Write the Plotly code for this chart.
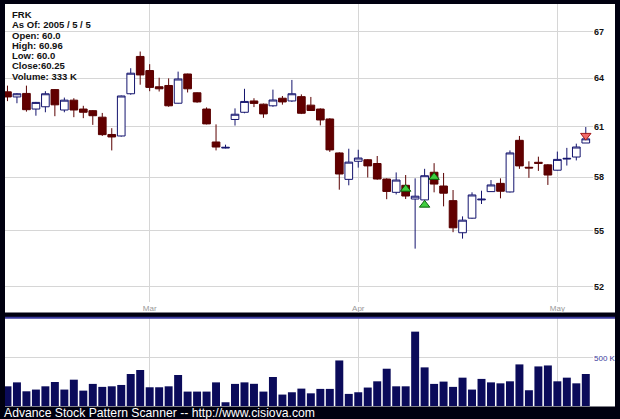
import plotly.graph_objects as go

# ---------------- data ----------------
dates = [
    "2005-02-07", "2005-02-08", "2005-02-09", "2005-02-10", "2005-02-11", "2005-02-14", "2005-02-15",
    "2005-02-16", "2005-02-17", "2005-02-18", "2005-02-22", "2005-02-23", "2005-02-24", "2005-02-25",
    "2005-02-28",
    "2005-03-01", "2005-03-02", "2005-03-03", "2005-03-04", "2005-03-07", "2005-03-08", "2005-03-09",
    "2005-03-10", "2005-03-11", "2005-03-14", "2005-03-15", "2005-03-16", "2005-03-17", "2005-03-18",
    "2005-03-21", "2005-03-22", "2005-03-23", "2005-03-24", "2005-03-28", "2005-03-29", "2005-03-30",
    "2005-03-31",
    "2005-04-01", "2005-04-04", "2005-04-05", "2005-04-06", "2005-04-07", "2005-04-08", "2005-04-11",
    "2005-04-12", "2005-04-13", "2005-04-14", "2005-04-15", "2005-04-18", "2005-04-19", "2005-04-20",
    "2005-04-21", "2005-04-22", "2005-04-25", "2005-04-26", "2005-04-27", "2005-04-28", "2005-04-29",
    "2005-05-02", "2005-05-03", "2005-05-04", "2005-05-05",
]

opens = [
    63.13, 62.81, 63.03, 62.06, 62.20, 63.27, 62.00, 62.61, 62.06, 61.96, 61.56, 60.51, 60.42, 63.01, 65.39,
    64.48, 63.45, 63.53, 62.42, 64.26, 63.07, 62.06, 60.06, 59.70, 61.42, 61.86, 62.56, 62.36, 62.26, 62.73,
    62.56, 62.83, 62.30, 62.06, 61.45, 59.41, 57.87,
    58.92, 59.01, 58.79, 57.89, 57.13, 57.53, 56.75, 56.70, 58.28, 57.49, 56.66, 54.88, 55.68, 56.70, 57.17,
    57.64, 57.15, 60.16, 58.57, 58.86, 58.71,
    58.40, 59.05, 59.17, 60.00,
]
highs = [
    63.52, 63.05, 63.52, 62.50, 63.17, 63.30, 62.77, 62.73, 62.26, 62.00, 61.82, 60.89, 62.90, 64.63, 65.71,
    64.89, 64.02, 63.98, 64.41, 64.28, 63.10, 62.16, 61.12, 59.90, 62.10, 63.32, 62.73, 62.40, 63.27, 62.87,
    63.88, 62.97, 62.81, 62.10, 61.50, 59.45, 59.66,
    59.60, 59.05, 59.23, 57.93, 58.27, 58.12, 57.93, 58.48, 58.81, 58.24, 57.26, 55.78, 57.13, 57.22, 57.83,
    57.93, 59.56, 60.42, 58.92, 59.19, 58.75,
    59.49, 59.71, 59.96, 60.96,
]
lows = [
    62.55, 62.42, 61.90, 61.65, 61.86, 61.62, 61.86, 61.56, 61.50, 61.09, 60.42, 59.56, 60.38, 62.95, 63.58,
    63.17, 63.15, 62.20, 62.40, 63.09, 62.45, 61.12, 59.56, 59.68, 61.05, 61.80, 62.18, 61.52, 62.20, 62.33,
    62.50, 61.75, 61.95, 61.06, 59.47, 57.28, 57.53,
    58.55, 57.98, 57.85, 56.74, 57.01, 56.75, 54.02, 56.65, 57.13, 56.34, 54.91, 54.56, 55.65, 56.47, 57.15,
    56.79, 57.12, 58.48, 57.96, 58.36, 57.55,
    58.38, 58.67, 58.97, 60.00,
]
closes = [
    62.81, 63.01, 62.02, 62.47, 63.01, 62.32, 62.61, 62.00, 61.86, 61.65, 60.50, 60.36, 62.87, 64.31, 64.20,
    63.41, 63.32, 62.26, 63.94, 63.32, 62.50, 61.15, 59.76, 59.74, 61.74, 62.53, 62.41, 61.76, 62.62, 62.50,
    63.01, 61.80, 61.97, 61.39, 59.59, 58.18, 58.87,
    59.11, 58.65, 57.89, 57.18, 57.83, 56.92, 56.91, 58.08, 57.60, 57.08, 55.15, 55.57, 56.98, 56.74, 57.55,
    57.19, 59.41, 58.65, 58.53, 58.80, 58.12,
    59.03, 59.09, 59.76, 60.25,
]
volumes_k = [
    205, 246, 153, 171, 205, 250, 171, 274, 160, 230, 199, 205, 219, 333, 375,
    195, 195, 205, 323, 150, 150, 150, 246, 39, 230, 246, 231, 150, 302, 119, 143, 181, 132, 178, 178, 474, 126,
    143, 192, 257, 388, 205, 205, 774, 402, 230, 254, 199, 295, 171, 282, 246, 236, 257, 433, 164, 412, 422,
    257, 295, 236, 333,
]

up_signal_dates = ["2005-04-08", "2005-04-12", "2005-04-13"]
up_signal_prices = [57.32, 56.42, 58.00]
down_signal_dates = ["2005-05-05"]
down_signal_prices = [60.44]

month_tick_dates = ["2005-03-01", "2005-04-01", "2005-05-02"]
month_tick_labels = ["Mar", "Apr", "May"]
price_ticks = [52, 55, 58, 61, 64, 67]
volume_tick_vals = [500000]
volume_tick_labels = ["500 K"]

info_lines = ["FRK", "As Of: 2005 / 5 / 5", "Open: 60.0", "High: 60.96", "Low: 60.0",
              "Close:60.25", "Volume: 333 K"]
footer_text = "Advance Stock Pattern Scanner -- http://www.cisiova.com"

volumes = [v * 1000 for v in volumes_k]

# ---------------- geometry (pixels) ----------------
W, H = 620, 419
ML, MR, MT, MB = 5, 27, 4, 13
PW = W - ML - MR
PH = H - MT - MB


def py(ypix):
    return (H - MB - ypix) / PH


def px(xpix):
    return (xpix - ML) / PW


FONT = "Liberation Sans, Arial, sans-serif"
GRID = "#d6d6d6"

fig = go.Figure()

fig.add_trace(go.Candlestick(
    x=dates, open=opens, high=highs, low=lows, close=closes,
    xaxis="x", yaxis="y",
    increasing=dict(line=dict(color="#14146e", width=1), fillcolor="#ffffff"),
    decreasing=dict(line=dict(color="#5a0000", width=1), fillcolor="#620000"),
    whiskerwidth=0, showlegend=False,
))

fig.add_trace(go.Scatter(
    x=up_signal_dates, y=up_signal_prices, mode="markers", xaxis="x", yaxis="y",
    marker=dict(symbol="triangle-up", size=9, color="#3fcf3f", line=dict(color="#0b5e0b", width=1)),
    showlegend=False,
))
fig.add_trace(go.Scatter(
    x=down_signal_dates, y=down_signal_prices, mode="markers", xaxis="x", yaxis="y",
    marker=dict(symbol="triangle-down", size=9, color="#f06a6a", line=dict(color="#a01818", width=1)),
    showlegend=False,
))

fig.add_trace(go.Bar(
    x=dates, y=volumes, xaxis="x2", yaxis="y2",
    marker=dict(color="#0b0b5a", line=dict(width=0)),
    showlegend=False,
))

xr = [-0.26, 61.76]

shapes = [
    dict(type="rect", xref="paper", yref="paper", x0=px(5), x1=px(615), y0=py(312.5), y1=py(4),
         fillcolor="white", line=dict(width=0), layer="below"),
    dict(type="rect", xref="paper", yref="paper", x0=px(5), x1=px(615), y0=py(406.5), y1=py(317.5),
         fillcolor="white", line=dict(width=0), layer="below"),
    dict(type="line", xref="paper", yref="paper", x0=px(5), x1=px(615), y0=py(317.8), y1=py(317.8),
         line=dict(color="#3a3a9e", width=2), layer="above"),
]

annotations = []
info_y = [14, 24.5, 35, 45.3, 55.6, 66, 76.5]
for line, yy in zip(info_lines, info_y):
    annotations.append(dict(
        text=line, xref="paper", yref="paper", x=px(9.5), y=py(yy), xanchor="left", yanchor="middle",
        showarrow=False, font=dict(family=FONT, size=9.5, color="#111111", weight="bold"),
    ))
annotations.append(dict(
    text=footer_text, xref="paper", yref="paper", x=px(2), y=py(413.5), xanchor="left", yanchor="middle",
    showarrow=False, font=dict(family=FONT, size=12.2, color="#ffffff"),
))

fig.update_layout(
    width=W, height=H,
    margin=dict(l=ML, r=MR, t=MT, b=MB, pad=0),
    paper_bgcolor="#000010",
    plot_bgcolor="#ffffff",
    showlegend=False,
    bargap=0.16,
    boxgap=0.1, boxgroupgap=0.1,
    shapes=shapes,
    annotations=annotations,
    xaxis=dict(
        type="category", categoryorder="array", categoryarray=dates,
        domain=[0, 1], anchor="y", range=xr,
        tickmode="array", tickvals=month_tick_dates, ticktext=month_tick_labels,
        showgrid=True, gridcolor=GRID, gridwidth=1, ticks="", showline=False, zeroline=False,
        tickfont=dict(family=FONT, size=8, color="#999999"),
        rangeslider=dict(visible=False), fixedrange=True,
    ),
    yaxis=dict(
        type="log", domain=[py(302), 1], anchor="x", range=[1.70952, 1.83815], side="right",
        tickmode="array", tickvals=price_ticks, ticktext=[str(t) for t in price_ticks],
        showgrid=True, gridcolor=GRID, gridwidth=1, ticks="", showline=False, zeroline=False,
        tickfont=dict(family=FONT, size=9, color="#111111", weight="bold"),
    ),
    xaxis2=dict(
        type="category", categoryorder="array", categoryarray=dates,
        domain=[0, 1], anchor="y2", range=xr,
        tickmode="array", tickvals=month_tick_dates, showticklabels=False,
        showgrid=True, gridcolor=GRID, gridwidth=1, ticks="", showline=False, zeroline=False,
    ),
    yaxis2=dict(
        domain=[0, py(318)], anchor="x2", range=[0, 916000], side="right",
        tickmode="array", tickvals=volume_tick_vals, ticktext=volume_tick_labels,
        showgrid=True, gridcolor=GRID, gridwidth=1, ticks="", showline=False, zeroline=False,
        tickfont=dict(family=FONT, size=8, color="#3c3c9c"),
    ),
)

fig.write_html(
    "out.html",
    config={"displayModeBar": False},
    post_script="document.body.style.margin='0px';document.body.style.overflow='hidden';",
)
